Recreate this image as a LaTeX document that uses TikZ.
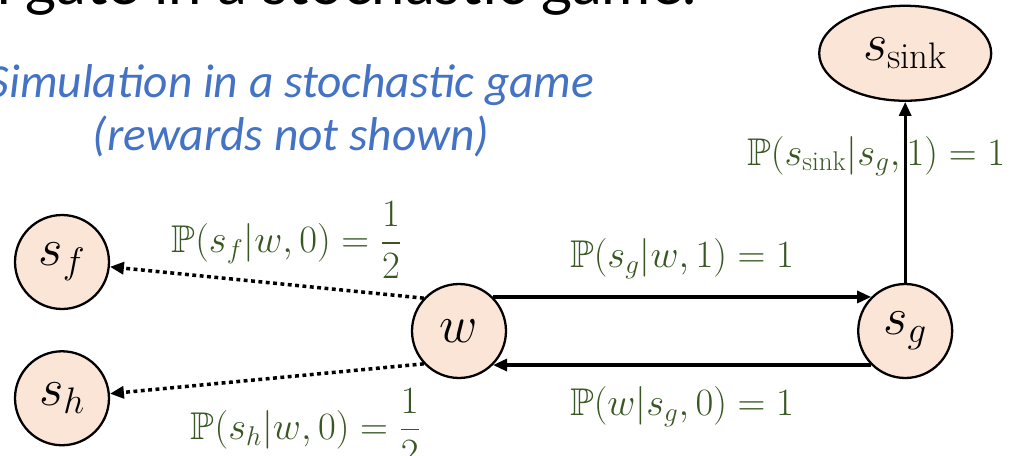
\RequirePackage{fix-cm}
\documentclass[tikz,border=0pt]{standalone}
\usepackage{amssymb}
\usepackage{fontspec}
\newfontfamily\calibri{Carlito}
\newfontfamily\titlefont{Lato}
\usetikzlibrary{positioning, shapes.geometric, arrows.meta}

\definecolor{nodefill}{HTML}{FBE5D6}
\definecolor{probgreen}{HTML}{385723}
\definecolor{noteblue}{HTML}{4472C4}

\begin{document}
\begin{tikzpicture}[
  x=0.02cm, y=-0.02cm,
  state/.style={
    draw=black, fill=nodefill, circle, line width=1.3pt,
    minimum size=1.88cm, inner sep=0pt, font=\fontsize{30}{34}\selectfont
  },
  sinkstate/.style={state,
    ellipse, minimum width=3.44cm, minimum height=1.9cm
  },
  prob/.style={text=probgreen, inner sep=1pt, font=\fontsize{22}{26}\selectfont},
  arrow/.style={-{Triangle[length=0.28cm, width=0.24cm]}, line width=1.8pt},
  dotarrow/.style={arrow, line width=2pt, dash pattern=on 2.2pt off 2pt},
]
\useasboundingbox (0,0) rectangle (1017,456);

% heading, mostly cut off at the top
\node[anchor=base east, inner sep=0pt, font=\titlefont\fontsize{34}{38}\selectfont]
  (title) at (697,5) {n gate in a stochastic game.};
\node[align=center, text=noteblue, font=\calibri\itshape\fontsize{27}{30}\selectfont]
  (note) at (291,111) {Simulation in a stochastic game\\(rewards not shown)};

\node[state] (w) at (459,331) {$w$};
\node[state, right=7cm of w] (sg) {$s_g$};
\node[sinkstate, above=3.62cm of sg] (sink) {$s_{\mathrm{sink}}$};

\node[state] (sf) at (62,262) {$s_f$};
\node[state, below=0.8cm of sf] (sh) {$s_h$};

\draw[arrow] (w.45) -- node[prob, above=0.3cm] (lwg)
  {$\mathbb{P}\bigl(s_g\big|w,1\bigr)=1$} (sg.135);
\draw[arrow] (sg.225) -- node[prob, below=0.36cm] (lgw)
  {$\mathbb{P}\bigl(w\big|s_g,0\bigr)=1$} (w.-45);
\draw[arrow] (sg) -- node[prob, pos=0.7, xshift=-0.58cm] (lgs)
  {$\mathbb{P}\bigl(s_{\mathrm{sink}}\big|s_g,1\bigr)=1$} (sink);
\draw[dotarrow] (w.137) -- node[prob, above=0pt, xshift=0.4cm] (lwf)
  {$\displaystyle\mathbb{P}\bigl(s_f\big|w,0\bigr)=\frac{1}{2}$} (sf);
\draw[dotarrow] (w.223) -- node[prob, below=0.12cm, xshift=0.78cm] (lwh)
  {$\displaystyle\mathbb{P}(s_h|w,0)=\frac{1}{2}$} (sh);

\end{tikzpicture}
\end{document}
